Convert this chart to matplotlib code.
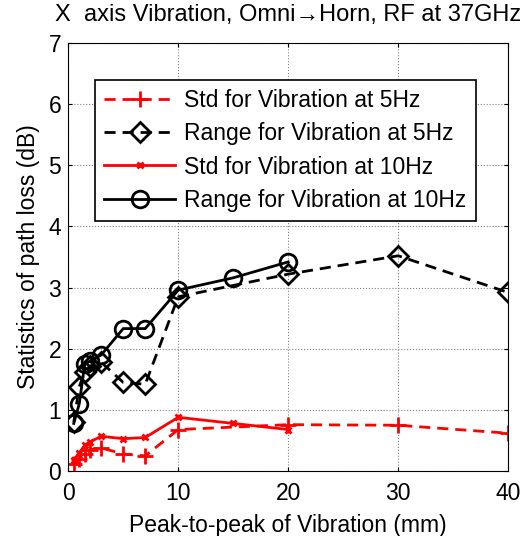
import matplotlib
matplotlib.use('Agg')
import matplotlib.pyplot as plt

plt.rcParams['font.family'] = ['Liberation Sans', 'DejaVu Sans']

# data
x_5hz = [0.5, 1, 1.5, 2, 3, 5, 7, 10, 20, 30, 40]
std_5hz = [0.12, 0.2, 0.28, 0.35, 0.38, 0.28, 0.25, 0.68, 0.76, 0.75, 0.62]
range_5hz = [0.8, 1.38, 1.62, 1.72, 1.78, 1.45, 1.42, 2.85, 3.22, 3.52, 2.92]

x_10hz = [0.5, 1, 1.5, 2, 3, 5, 7, 10, 15, 20]
std_10hz = [0.18, 0.3, 0.42, 0.48, 0.57, 0.53, 0.55, 0.88, 0.78, 0.68]
range_10hz = [0.78, 1.1, 1.75, 1.8, 1.9, 2.33, 2.33, 2.96, 3.16, 3.42]

labels = ['Std for Vibration at 5Hz', 'Range for Vibration at 5Hz',
          'Std for Vibration at 10Hz', 'Range for Vibration at 10Hz']

fig = plt.figure(figsize=(5.25, 5.36), dpi=100)
ax = fig.add_axes([0.13, 0.121, 0.838, 0.799])

dash = (4, 2.5)
ax.plot(x_5hz, std_5hz, 'r--', dashes=dash, marker='+', ms=12, mew=2, lw=2, label=labels[0])
ax.plot(x_5hz, range_5hz, 'k--', dashes=dash, marker='D', ms=10, mfc='none', mew=2, lw=2, label=labels[1])
ax.plot(x_10hz, std_10hz, 'r-', marker='x', ms=5, mew=2, lw=2, label=labels[2])
ax.plot(x_10hz, range_10hz, 'k-', marker='o', ms=12, mfc='none', mew=2, lw=2, label=labels[3])

ax.set_xlim(0, 40)
ax.set_ylim(0, 7)
ax.set_xticks([0, 10, 20, 30, 40])
ax.set_yticks(range(8))
ax.grid(True, linestyle=':', color='gray', lw=0.8)
ax.tick_params(direction='in', top=True, right=True, labelsize=16.5, length=3)
ax.tick_params(axis='x', pad=8)
ax.tick_params(axis='y', pad=5)

ax.set_xlabel('Peak-to-peak of Vibration (mm)', fontsize=16.5, labelpad=6)
ax.set_ylabel('Statistics of path loss (dB)', fontsize=16.5, labelpad=6)
ax.set_title('X  axis Vibration, Omni\u2192Horn, RF at 37GHz', fontsize=17, pad=16)

leg = ax.legend(loc='upper left', bbox_to_anchor=(0.061, 0.914), fontsize=16.5,
                fancybox=False, edgecolor='black', framealpha=1,
                handlelength=3.1, handletextpad=0.4, borderpad=0.4,
                labelspacing=0.45, borderaxespad=0)
leg.get_frame().set_linewidth(1.2)

fig.savefig('out.png', dpi=100)
